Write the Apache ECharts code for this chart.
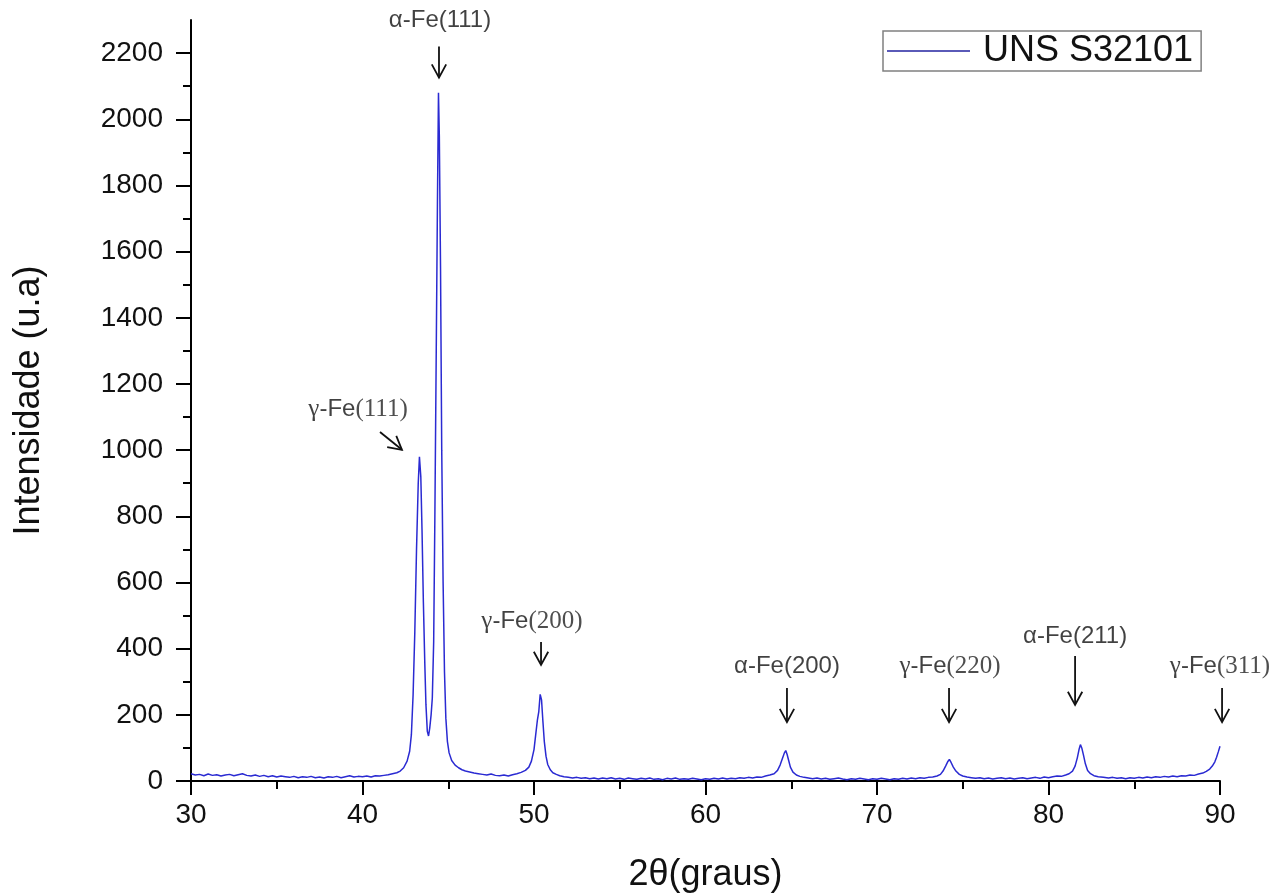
<!DOCTYPE html>
<html>
<head>
<meta charset="utf-8">
<script src="https://cdn.jsdelivr.net/npm/echarts@6/dist/echarts.min.js"></script>
<style>
html,body{margin:0;padding:0;background:#fff;}
#chart{width:1286px;height:896px;}
</style>
</head>
<body>
<div id="chart"></div>
<script>
// ---- Data ----
const twoTheta = [
30.0,30.25,30.5,30.75,31.0,31.25,31.5,31.75,32.0,32.25,32.5,32.75,33.0,33.25,33.5,33.75,34.0,34.25,34.5,34.75,
35.0,35.25,35.5,35.75,36.0,36.25,36.5,36.75,37.0,37.25,37.5,37.75,38.0,38.25,38.5,38.75,39.0,39.25,39.5,39.75,
40.0,40.25,40.5,40.75,41.0,41.25,41.5,41.75,42.0,42.2,42.4,42.6,42.75,42.85,42.95,43.05,43.15,43.25,43.32,43.4,
43.47,43.55,43.63,43.7,43.78,43.85,43.92,44.0,44.07,44.15,44.22,44.3,44.37,44.43,44.48,44.55,44.62,44.7,44.78,44.86,
44.95,45.05,45.2,45.4,45.6,45.8,46.0,46.25,46.5,46.75,47.0,47.25,47.5,47.75,48.0,48.25,48.5,48.75,49.0,49.25,
49.5,49.7,49.85,50.0,50.1,50.2,50.28,50.36,50.44,50.52,50.6,50.7,50.8,50.95,51.1,51.3,51.5,51.75,52.0,52.25,
52.5,52.75,53.0,53.25,53.5,53.75,54.0,54.25,54.5,54.75,55.0,55.25,55.5,55.75,56.0,56.25,56.5,56.75,57.0,57.25,
57.5,57.75,58.0,58.25,58.5,58.75,59.0,59.25,59.5,59.75,60.0,60.25,60.5,60.75,61.0,61.25,61.5,61.75,62.0,62.25,
62.5,62.75,63.0,63.25,63.5,63.75,64.0,64.2,64.35,64.5,64.6,64.68,64.76,64.85,64.95,65.1,65.3,65.5,65.75,66.0,
66.25,66.5,66.75,67.0,67.25,67.5,67.75,68.0,68.25,68.5,68.75,69.0,69.25,69.5,69.75,70.0,70.25,70.5,70.75,71.0,
71.25,71.5,71.75,72.0,72.25,72.5,72.75,73.0,73.25,73.5,73.7,73.85,74.0,74.12,74.22,74.32,74.45,74.6,74.8,75.0,
75.25,75.5,75.75,76.0,76.25,76.5,76.75,77.0,77.25,77.5,77.75,78.0,78.25,78.5,78.75,79.0,79.25,79.5,79.75,80.0,
80.25,80.5,80.75,81.0,81.2,81.4,81.55,81.68,81.78,81.86,81.94,82.04,82.15,82.28,82.45,82.65,82.9,83.2,83.5,83.75,
84.0,84.25,84.5,84.75,85.0,85.25,85.5,85.75,86.0,86.25,86.5,86.75,87.0,87.25,87.5,87.75,88.0,88.25,88.5,88.75,
89.0,89.2,89.4,89.55,89.7,89.8,89.9,90.0
];
const intensity = [
22,18,20,16,21,17,19,15,18,20,16,19,22,17,15,18,14,17,13,16,
12,15,13,11,14,10,13,11,14,10,12,9,13,11,14,10,13,16,12,14,
13,15,12,16,15,17,19,22,25,30,40,60,90,140,260,450,700,900,980,920,
760,540,360,230,150,136,160,200,250,420,800,1300,1750,2080,1950,1550,1000,600,330,190,
120,85,62,48,40,34,30,27,24,22,20,18,21,17,16,18,15,19,22,26,
32,42,60,95,140,185,210,262,245,180,120,75,50,34,25,20,16,13,11,9,
11,8,10,7,9,6,9,7,10,6,8,5,9,7,5,8,6,9,5,7,
4,8,6,9,5,7,5,8,6,4,7,5,8,6,9,6,8,7,10,8,
11,9,12,11,15,18,22,32,48,70,85,92,80,62,42,27,18,14,11,9,
7,9,6,8,5,7,9,6,4,7,5,8,6,4,7,5,8,6,4,7,
5,8,6,9,7,10,8,11,12,15,20,30,45,58,65,56,42,30,20,15,
12,10,8,10,7,9,6,8,10,7,9,6,8,10,7,9,11,8,12,10,
13,15,14,18,22,30,45,70,95,110,100,78,52,32,22,16,13,11,9,11,
8,10,7,10,8,11,9,12,10,13,11,14,12,15,13,16,15,18,17,21,
24,29,36,45,58,72,88,105
];

const seriesName = 'UNS S32101';
const xMajorTicks = [30, 40, 50, 60, 70, 80, 90];
const xMinorTicks = [35, 45, 55, 65, 75, 85];
const yMajorTicks = [0, 200, 400, 600, 800, 1000, 1200, 1400, 1600, 1800, 2000, 2200];
const yMinorTicks = [100, 300, 500, 700, 900, 1100, 1300, 1500, 1700, 1900, 2100];

// Peak annotations (data coordinates)
const annotPhase = ['α', 'γ', 'γ', 'α', 'γ', 'α', 'γ'];
const annotHkl = ['(111)', '(111)', '(200)', '(200)', '(220)', '(211)', '(311)'];
const annotLabelX = [44.52, 39.74, 49.88, 64.75, 74.26, 81.55, 90.0];
const annotLabelY = [2300, 1122, 481, 345, 345, 438, 345];
const arrowFromX = [44.46, 41.02, 50.41, 64.75, 74.20, 81.55, 90.12];
const arrowFromY = [2220, 1055, 420, 281, 281, 378, 281];
const arrowToX = [44.46, 42.30, 50.41, 64.75, 74.20, 81.55, 90.12];
const arrowToY = [2126, 1001, 351, 178, 178, 230, 178];

// ---- Build options ----
const lineData = twoTheta.map((x, i) => [x, intensity[i]]);
const labelData = annotPhase.map((p, i) => [annotLabelX[i], annotLabelY[i], i]);
const arrowData = arrowFromX.map((x, i) => [x, arrowFromY[i], arrowToX[i], arrowToY[i]]);

const SANS = '"Liberation Sans", Arial, sans-serif';
const SERIF = '"Liberation Serif", "Times New Roman", serif';

const chart = echarts.init(document.getElementById('chart'), null, {renderer: 'canvas'});

const option = {
  animation: false,
  backgroundColor: '#ffffff',
  grid: {left: 191, right: 66, top: 20, bottom: 115, containLabel: false, outerBoundsMode: 'none'},
  legend: {
    data: [{name: seriesName, icon: 'rect'}],
    left: 883,
    top: 31,
    orient: 'horizontal',
    itemWidth: 83,
    itemHeight: 2,
    padding: [2, 8, 2, 4],
    borderColor: '#808080',
    borderWidth: 1.5,
    borderRadius: 0,
    backgroundColor: '#ffffff',
    itemStyle: {color: '#5a5ab8'},
    textStyle: {fontFamily: SANS, fontSize: 36, color: '#111', padding: [0, 0, 0, 8]}
  },
  xAxis: [
    {
      type: 'value', min: 30, max: 90, interval: 10,
      name: '2θ(graus)', nameLocation: 'middle', nameGap: 76,
      nameTextStyle: {fontFamily: SANS, fontSize: 36, color: '#111'},
      axisLine: {show: true, onZero: false, lineStyle: {color: '#000', width: 2}},
      axisTick: {show: true, length: 14, lineStyle: {color: '#000', width: 2}, customValues: xMajorTicks},
      axisLabel: {fontFamily: SANS, fontSize: 28, color: '#111', margin: 20, customValues: xMajorTicks},
      splitLine: {show: false}
    },
    {
      type: 'value', min: 30, max: 90, gridIndex: 0, position: 'bottom',
      axisLine: {show: false},
      axisTick: {show: true, length: 8, lineStyle: {color: '#000', width: 2}, customValues: xMinorTicks},
      axisLabel: {show: false},
      splitLine: {show: false}
    }
  ],
  yAxis: [
    {
      type: 'value', min: 0, max: 2300, interval: 100,
      name: 'Intensidade (u.a)', nameLocation: 'middle', nameGap: 144,
      nameTextStyle: {fontFamily: SANS, fontSize: 36, color: '#111'},
      axisLine: {show: true, onZero: false, lineStyle: {color: '#000', width: 2}},
      axisTick: {show: true, length: 15, lineStyle: {color: '#000', width: 2}, customValues: yMajorTicks},
      axisLabel: {fontFamily: SANS, fontSize: 28, color: '#111', margin: 28, customValues: yMajorTicks,
                  formatter: function (v) { return String(v); }},
      splitLine: {show: false}
    },
    {
      type: 'value', min: 0, max: 2300, gridIndex: 0, position: 'left',
      axisLine: {show: false},
      axisTick: {show: true, length: 8, lineStyle: {color: '#000', width: 2}, customValues: yMinorTicks},
      axisLabel: {show: false},
      splitLine: {show: false}
    }
  ],
  series: [
    {
      name: seriesName,
      type: 'line',
      data: lineData,
      showSymbol: false,
      symbol: 'none',
      lineStyle: {color: '#2a2ad2', width: 1.5},
      itemStyle: {color: '#2a2ad2'},
      z: 3
    },
    {
      name: 'arrows',
      type: 'custom',
      data: arrowData,
      encode: {x: [0, 2], y: [1, 3]},
      silent: true,
      z: 4,
      renderItem: function (params, api) {
        const p1 = api.coord([api.value(0), api.value(1)]);
        const p2 = api.coord([api.value(2), api.value(3)]);
        const ang = Math.atan2(p2[1] - p1[1], p2[0] - p1[0]);
        const L = 15, w = 0.5;
        const a1 = [p2[0] - L * Math.cos(ang - w), p2[1] - L * Math.sin(ang - w)];
        const a2 = [p2[0] - L * Math.cos(ang + w), p2[1] - L * Math.sin(ang + w)];
        return {
          type: 'group',
          children: [
            {type: 'line', shape: {x1: p1[0], y1: p1[1], x2: p2[0], y2: p2[1]},
             style: {stroke: '#111', lineWidth: 1.8}},
            {type: 'polyline', shape: {points: [a1, p2, a2]},
             style: {stroke: '#111', lineWidth: 1.8, fill: null}}
          ]
        };
      }
    },
    {
      name: 'labels',
      type: 'scatter',
      data: labelData,
      symbolSize: 0,
      silent: true,
      z: 5,
      label: {
        show: true,
        position: 'inside',
        formatter: function (p) {
          const i = p.data[2];
          if (annotPhase[i] === 'γ') {
            return '{g|γ}{s|-Fe}{h|' + annotHkl[i] + '}';
          }
          return '{s|α-Fe' + annotHkl[i] + '}';
        },
        rich: {
          g: {fontFamily: SERIF, fontSize: 25, color: '#111'},
          s: {fontFamily: SANS, fontSize: 24, color: '#111'},
          h: {fontFamily: SERIF, fontSize: 25, color: '#222'}
        }
      }
    }
  ]
};
chart.setOption(option);
</script>
</body>
</html>
